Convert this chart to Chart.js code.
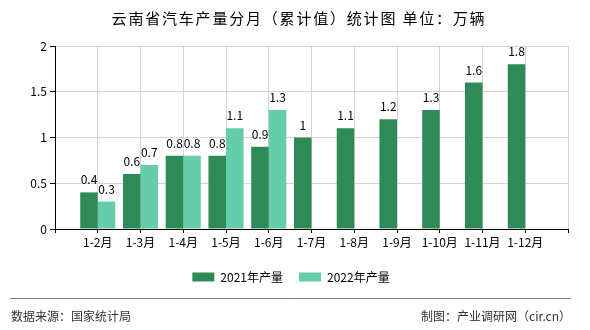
<!DOCTYPE html>
<html>
<head>
<meta charset="utf-8">
<script src="https://cdn.jsdelivr.net/npm/chart.js@4/dist/chart.umd.min.js"></script>
<style>
  html, body { margin: 0; padding: 0; background: #fff; }
  #wrap { width: 590px; height: 330px; }
</style>
</head>
<body>
<div id="wrap"><canvas id="chart" width="590" height="330"></canvas></div>
<script>
// Monthly cumulative car output, Yunnan (unit: 10k vehicles)
const categories = ['1-2月', '1-3月', '1-4月', '1-5月', '1-6月', '1-7月', '1-8月', '1-9月', '1-10月', '1-11月', '1-12月'];
const output2021 = [0.4, 0.6, 0.8, 0.8, 0.9, 1, 1.1, 1.2, 1.3, 1.6, 1.8];
const output2022 = [0.3, 0.7, 0.8, 1.1, 1.3];
const yTicks = [0, 0.5, 1, 1.5, 2];
const seriesNames = ['2021年产量', '2022年产量'];

const titleText = '云南省汽车产量分月（累计值）统计图 单位：万辆';
const sourceText = '数据来源：国家统计局';
const creditText = '制图：产业调研网（cir.cn）';

const FONT = '"Noto Sans CJK SC", "DejaVu Sans", sans-serif';
Chart.defaults.font.family = FONT;

// blank slots at both ends so categories sit on the grid lines
const labels = ['', ...categories, ''];
const pad = (arr) => [null, ...arr, ...Array(categories.length - arr.length).fill(null), null];

const decor = {
  id: 'decor',
  beforeDraw(chart) {
    const ctx = chart.ctx;
    ctx.save();
    ctx.fillStyle = '#fff';
    ctx.fillRect(0, 0, chart.width, chart.height);
    ctx.restore();
  },
  afterDatasetsDraw(chart) {
    const ctx = chart.ctx;
    ctx.save();
    ctx.font = '12px ' + FONT;
    ctx.fillStyle = '#000';
    ctx.textAlign = 'center';
    ctx.textBaseline = 'alphabetic';
    chart.data.datasets.forEach((ds, di) => {
      const meta = chart.getDatasetMeta(di);
      meta.data.forEach((bar, i) => {
        const v = ds.data[i];
        if (v === null || v === undefined) return;
        ctx.fillText(String(v), bar.x, bar.y - 8);
      });
    });
    ctx.restore();
  },
  afterDraw(chart) {
    const ctx = chart.ctx;
    ctx.save();
    // title
    ctx.fillStyle = '#000';
    ctx.font = '15px ' + FONT;
    ctx.letterSpacing = '1.8px';
    ctx.textAlign = 'center';
    ctx.textBaseline = 'middle';
    ctx.fillText(titleText, 299, 18);
    ctx.letterSpacing = '0px';
    // footer rule
    ctx.strokeStyle = '#808080';
    ctx.lineWidth = 1;
    ctx.beginPath();
    ctx.moveTo(10, 298.5);
    ctx.lineTo(571, 298.5);
    ctx.stroke();
    // footer texts
    ctx.fillStyle = '#333';
    ctx.font = '12px ' + FONT;
    ctx.textAlign = 'left';
    ctx.fillText(sourceText, 11, 316);
    ctx.textAlign = 'right';
    ctx.fillText(creditText, 571, 316);
    ctx.restore();
  }
};

new Chart(document.getElementById('chart'), {
  type: 'bar',
  data: {
    labels: labels,
    datasets: [
      { label: seriesNames[0], data: pad(output2021), backgroundColor: '#2e8b57', borderWidth: 0 },
      { label: seriesNames[1], data: pad(output2022), backgroundColor: '#66cdaa', borderWidth: 0 }
    ]
  },
  options: {
    responsive: false,
    animation: false,
    events: [],
    categoryPercentage: 0.82,
    barPercentage: 1,
    layout: { padding: { top: 46, right: 22, bottom: 37, left: 14 } },
    plugins: {
      title: { display: false },
      tooltip: { enabled: false },
      legend: {
        display: true,
        position: 'bottom',
        labels: {
          boxWidth: 22,
          boxHeight: 9,
          padding: 16,
          color: '#000',
          font: { size: 12, family: FONT }
        }
      }
    },
    scales: {
      x: {
        type: 'category',
        offset: false,
        grid: { color: '#d3d3d3', tickColor: '#000', tickLength: 4, offset: false, lineWidth: 1 },
        border: { color: '#000', width: 1 },
        ticks: { color: '#000', font: { size: 12 }, padding: 2, autoSkip: false, maxRotation: 0 },
        afterFit(scale) { scale.height = 26; }
      },
      y: {
        min: yTicks[0],
        max: yTicks[yTicks.length - 1],
        afterBuildTicks(scale) { scale.ticks = yTicks.map(v => ({ value: v })); },
        grid: { color: '#d3d3d3', tickColor: '#000', tickLength: 5, lineWidth: 1 },
        border: { color: '#000', width: 1 },
        ticks: { color: '#000', font: { size: 12 }, padding: 3, callback: v => String(v) },
        afterFit(scale) { scale.width = 41; }
      }
    }
  },
  plugins: [decor]
});
</script>
</body>
</html>
